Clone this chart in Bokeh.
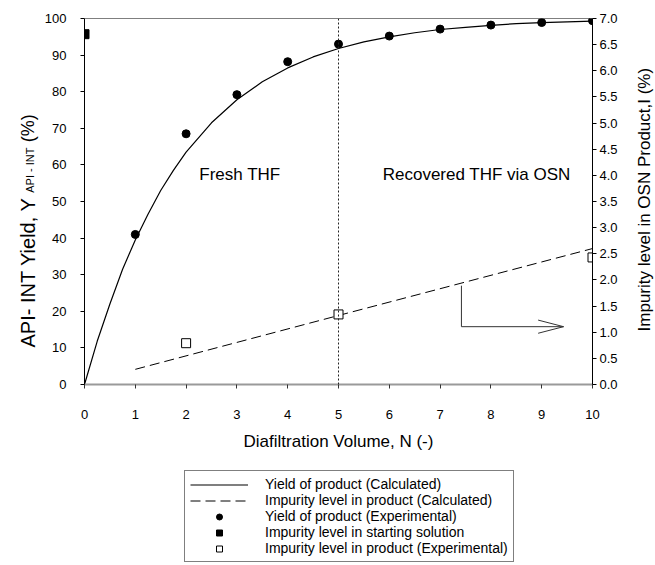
import numpy as np
from bokeh.plotting import figure
from bokeh.layouts import row, column
from bokeh.models import (Range1d, LinearAxis, FixedTicker, Span, Label, Legend,
                          LegendItem, PrintfTickFormatter)
from bokeh.embed import file_html
from bokeh.resources import INLINE

FONT = "Liberation Sans"

# ---------------- data ----------------
X_TICKS = [0, 1, 2, 3, 4, 5, 6, 7, 8, 9, 10]
Y_TICKS = [0, 10, 20, 30, 40, 50, 60, 70, 80, 90, 100]
IMP_TICKS = [0.0, 0.5, 1.0, 1.5, 2.0, 2.5, 3.0, 3.5, 4.0, 4.5, 5.0, 5.5, 6.0, 6.5, 7.0]

# Yield of product (Calculated), left axis (%)
N_calc = [0, 0.25, 0.5, 0.75, 1, 1.25, 1.5, 1.75, 2, 2.5, 3, 3.5, 4, 4.5, 5,
          5.5, 6, 6.5, 7, 7.5, 8, 8.5, 9, 9.5, 10]
yield_calc = [0, 11.8, 22, 31.5, 39.5, 46.5, 53, 58.5, 63.5, 71.5, 77.8, 82.7, 86.5,
              89.5, 91.8, 93.6, 95, 96.1, 97, 97.6, 98.1, 98.6, 98.9, 99.1, 99.3]

# Yield of product (Experimental), left axis (%)
N_exp = [1, 2, 3, 4, 5, 6, 7, 8, 9, 10]
yield_exp = [41, 68.5, 79.2, 88.2, 93, 95.2, 97.1, 98.2, 98.9, 99.4]

# Impurity level in product (Calculated), right axis (%)
N_imp_calc = [1, 5, 10]
imp_calc = [0.29, 1.32, 2.6]

# Impurity level in starting solution, right axis (%)
N_start = [0]
imp_start = [6.7]

# Impurity level in product (Experimental), right axis (%)
N_imp_exp = [2, 5, 10]
imp_exp = [0.79, 1.34, 2.43]

LEGEND_LABELS = ["Yield of product (Calculated)",
                 "Impurity level in product (Calculated)",
                 "Yield of product (Experimental)",
                 "Impurity level in starting solution",
                 "Impurity level in product (Experimental)"]

MAIN_H = 460

# styles shared by the plot and its legend
STY_CALC = dict(line_color="black", line_width=1.2)
STY_IMP_CALC = dict(line_color="black", line_width=1, line_dash="10 5")
STY_EXP = dict(marker="circle", size=8, fill_color="black", line_color="black")
STY_START = dict(marker="square", size=9, fill_color="black", line_color="black")
STY_IMP_EXP = dict(marker="square", size=9, fill_color="white", line_color="black",
                   line_width=1)

# ---------------- main figure ----------------
p = figure(width=580, height=MAIN_H, x_range=Range1d(0, 10), y_range=Range1d(0, 100),
           output_backend="svg", toolbar_location=None,
           min_border_left=44, min_border_right=28, min_border_top=18,
           min_border_bottom=MAIN_H - 384)
p.extra_y_ranges = {"imp": Range1d(0, 7)}
p.xgrid.visible = False
p.ygrid.visible = False
p.outline_line_color = None
p.background_fill_color = "white"
p.border_fill_color = "white"

xa = p.xaxis[0]
xa.ticker = FixedTicker(ticks=X_TICKS)
xa.axis_line_color = "#9a9a9a"
xa.axis_line_width = 2
xa.major_tick_line_color = "#333333"
xa.major_tick_out = 4
xa.major_tick_in = 0
xa.minor_tick_line_color = None
xa.major_label_text_font = FONT
xa.major_label_text_font_size = "13px"
xa.major_label_text_color = "black"
xa.major_label_standoff = 21
xa.axis_label = "Diafiltration Volume, N (-)"
xa.axis_label_text_font = FONT
xa.axis_label_text_font_size = "17px"
xa.axis_label_text_font_style = "normal"
xa.axis_label_text_color = "black"
xa.axis_label_standoff = 10

ya = p.yaxis[0]
ya.ticker = FixedTicker(ticks=Y_TICKS)
ya.axis_line_color = "black"
ya.major_tick_line_color = "black"
ya.major_tick_out = 4
ya.major_tick_in = 0
ya.minor_tick_line_color = None
ya.major_label_text_font = FONT
ya.major_label_text_font_size = "13px"
ya.major_label_text_color = "black"
ya.major_label_standoff = 14

ra = LinearAxis(y_range_name="imp", ticker=FixedTicker(ticks=IMP_TICKS),
                formatter=PrintfTickFormatter(format="%.1f"))
ra.axis_line_color = "black"
ra.major_tick_line_color = "black"
ra.major_tick_out = 4
ra.major_tick_in = 0
ra.minor_tick_line_color = None
ra.major_label_text_font = FONT
ra.major_label_text_font_size = "13px"
ra.major_label_text_color = "black"
ra.major_label_standoff = 3
p.add_layout(ra, "right")

p.add_layout(Span(location=100, dimension="width", line_color="black", line_width=1))
p.add_layout(Span(location=5, dimension="height", line_color="#222222", line_width=1,
                  line_dash="2 2"))

p.line(N_calc, yield_calc, **STY_CALC)
p.line(N_imp_calc, imp_calc, y_range_name="imp", **STY_IMP_CALC)
p.scatter(N_exp, yield_exp, **STY_EXP)
p.scatter(N_start, imp_start, y_range_name="imp", **STY_START)
p.scatter(N_imp_exp, imp_exp, y_range_name="imp", **STY_IMP_EXP)

# arrow pointing to right axis
p.segment(x0=[7.42, 7.42, 8.93, 8.93], y0=[27.0, 15.8, 17.6, 14.0],
          x1=[7.42, 9.43, 9.43, 9.43], y1=[15.8, 15.8, 15.8, 15.8],
          line_color="#333333", line_width=1)

p.add_layout(Label(x=2.26, y=54.9, text="Fresh THF", text_font=FONT,
                   text_font_size="17px", text_color="black"))
p.add_layout(Label(x=5.87, y=54.9, text="Recovered THF via OSN", text_font=FONT,
                   text_font_size="17px", text_color="black"))


# ---------------- side strips (frames align with the main frame) ----------------
def strip(width, height, x_range, y_range):
    f = figure(width=width, height=height, x_range=x_range, y_range=y_range,
               output_backend="svg", toolbar_location=None,
               x_axis_location=None, y_axis_location=None,
               min_border_left=0, min_border_right=0,
               min_border_top=0, min_border_bottom=0)
    f.xgrid.visible = False
    f.ygrid.visible = False
    f.outline_line_color = None
    f.background_fill_color = "white"
    f.border_fill_color = "white"
    return f


# left strip: y in the same units as the left axis (0-100)
pl = strip(40, MAIN_H, Range1d(0, 40), Range1d(0, 100))
pl.add_layout(Label(x=27, y=10.1, text="API- INT Yield, Y", angle=np.pi / 2,
                    text_font=FONT, text_font_size="20px", text_color="black",
                    text_align="left", text_baseline="alphabetic"))
pl.add_layout(Label(x=29, y=52.4, text="API - INT", angle=np.pi / 2,
                    text_font=FONT, text_font_size="11px", text_color="black",
                    text_align="left", text_baseline="alphabetic"))
pl.add_layout(Label(x=27, y=66.2, text="(%)", angle=np.pi / 2,
                    text_font=FONT, text_font_size="18px", text_color="black",
                    text_align="left", text_baseline="alphabetic"))

# right strip
pr = strip(35, MAIN_H, Range1d(0, 35), Range1d(0, 100))
pr.add_layout(Label(x=24, y=50.5, text="Impurity level in OSN Product,I (%)",
                    angle=np.pi / 2, text_font=FONT, text_font_size="17px",
                    text_color="black", text_align="center",
                    text_baseline="alphabetic"))

# ---------------- legend strip ----------------
LEG_H = 565 - MAIN_H
# the view window is kept away from the data so only the legend shows
pg = strip(655, LEG_H, Range1d(-1000, -345), Range1d(0, 100))
g1 = pg.line(N_calc, yield_calc, **STY_CALC)
g2 = pg.line(N_imp_calc, imp_calc, **STY_IMP_CALC)
g3 = pg.scatter(N_exp, yield_exp, **STY_EXP)
g4 = pg.scatter(N_start, imp_start, **STY_START)
g5 = pg.scatter(N_imp_exp, imp_exp, **STY_IMP_EXP)
legend = Legend(items=[LegendItem(label=lab, renderers=[g])
                       for lab, g in zip(LEGEND_LABELS, [g1, g2, g3, g4, g5])],
                location=(184, 3), orientation="vertical")
legend.label_text_font = FONT
legend.label_text_font_size = "14px"
legend.label_text_color = "black"
legend.glyph_width = 58
legend.glyph_height = 15
legend.label_height = 15
legend.spacing = 0
legend.padding = 5
legend.margin = 0
legend.label_standoff = 17
legend.border_line_color = "black"
legend.border_line_width = 1
legend.background_fill_color = "white"
legend.background_fill_alpha = 1
pg.add_layout(legend, "center")

layout = column(row(pl, p, pr), pg)
open("out.html", "w").write(file_html(layout, INLINE))
